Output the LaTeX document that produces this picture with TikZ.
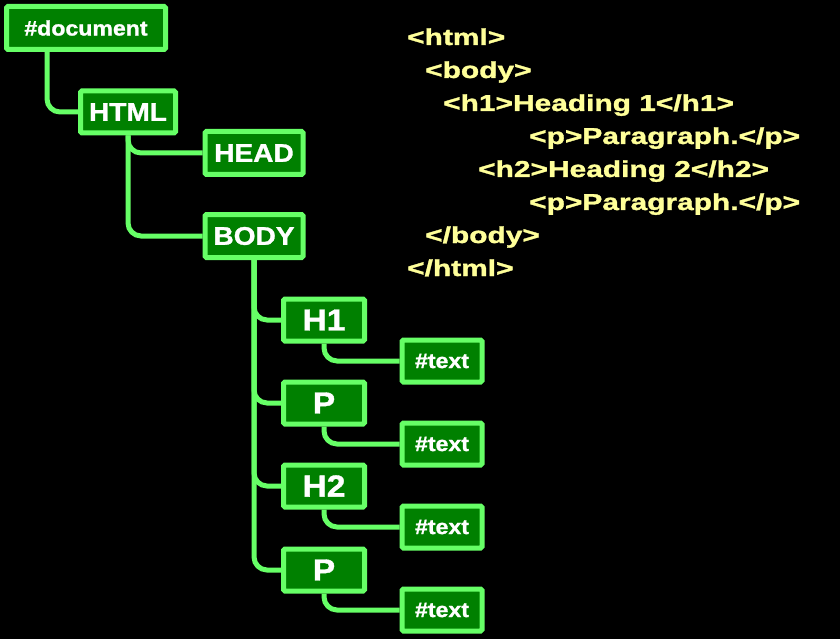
\documentclass[tikz,border=0pt]{standalone}
\usepackage{fontspec}
\setmainfont{Liberation Sans}
\newfontfamily\nodefont[FakeStretch=1.1,BoldFeatures={FakeBold=1.2}]{Liberation Sans}
\newfontfamily\codefont[FakeStretch=1.3,BoldFeatures={FakeBold=1.4}]{Liberation Sans}
\usetikzlibrary{backgrounds}
\definecolor{lgreen}{RGB}{102,255,102}
\definecolor{dgreen}{RGB}{0,128,0}
\definecolor{codey}{RGB}{255,255,153}
\begin{document}
\begin{tikzpicture}[x=1pt,y=-1pt,
  box/.style={draw=lgreen, fill=dgreen, line width=5pt, rounded corners=1.5pt, text=white, inner sep=0pt},
  small/.style={box, font=\nodefont\bfseries\fontsize{21}{24}\selectfont},
  mid/.style={box, font=\nodefont\bfseries\fontsize{25.5}{28}\selectfont},
  big/.style={box, font=\nodefont\bfseries\fontsize{30.5}{34}\selectfont},
  conn/.style={draw=lgreen, line width=5pt, rounded corners=13pt},
  code/.style={anchor=base west, text=codey, inner sep=0pt, font=\codefont\bfseries\fontsize{23}{26}\selectfont}]
\useasboundingbox (0,0) rectangle (840,639);
% tree nodes
\node[small, minimum width=159pt, minimum height=43pt] (doc) at (86,28) {\#document};
\node[mid, minimum width=95pt, minimum height=42pt] (html) at (128,112) {HTML};
\node[mid, minimum width=98pt, minimum height=43pt] (head) at (254,153) {HEAD};
\node[mid, minimum width=98pt, minimum height=43pt] (body) at (254,236) {BODY};
\node[big, minimum width=81pt, minimum height=42pt] (h1) at (324,320) {H1};
\node[big, minimum width=81pt, minimum height=42pt] (p1) at (324,403) {P};
\node[big, minimum width=81pt, minimum height=42pt] (h2) at (324,486) {H2};
\node[big, minimum width=81pt, minimum height=42pt] (p2) at (324,570) {P};
\node[small, minimum width=80pt, minimum height=42pt] (t1) at (442,361) {\#text};
\node[small, minimum width=80pt, minimum height=42pt] (t2) at (442,444) {\#text};
\node[small, minimum width=80pt, minimum height=42pt] (t3) at (442,527) {\#text};
\node[small, minimum width=80pt, minimum height=42pt] (t4) at (442,610) {\#text};
% code
\node[code] (c1) at (407,45) {<html>};
\node[code] (c2) at (425,78) {<body>};
\node[code] (c3) at (443,111) {<h1>Heading 1</h1>};
\node[code] (c4) at (529,144) {<p>Paragraph.</p>};
\node[code] (c5) at (478,177) {<h2>Heading 2</h2>};
\node[code] (c6) at (529,210) {<p>Paragraph.</p>};
\node[code] (c7) at (425,243) {</body>};
\node[code] (c8) at (407,276) {</html>};
\begin{pgfonlayer}{background}
\fill[black] (0,0) rectangle (840,639);
\draw[conn] ([xshift=43pt]doc.south west) |- (html.west);
\draw[conn] (html.south) |- (head.west);
\draw[conn] (html.south) |- (body.west);
\draw[conn] (body.south) |- (h1.west);
\draw[conn] (body.south) |- (p1.west);
\draw[conn] (body.south) |- (h2.west);
\draw[conn] (body.south) |- (p2.west);
\draw[conn] (h1.south) |- (t1.west);
\draw[conn] (p1.south) |- (t2.west);
\draw[conn] (h2.south) |- (t3.west);
\draw[conn] (p2.south) |- (t4.west);
\end{pgfonlayer}
\end{tikzpicture}
\end{document}
